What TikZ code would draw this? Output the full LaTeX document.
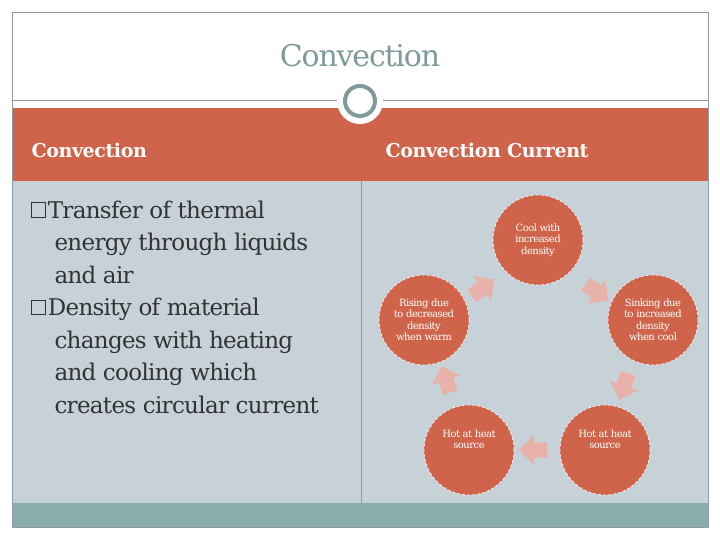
\documentclass[tikz,border=0pt]{standalone}
\usepackage{fontspec}
\setmainfont{DejaVu Serif}
\usetikzlibrary{shapes.arrows}
\definecolor{org}{HTML}{CF644A}
\definecolor{bodyg}{HTML}{C7D1D8}
\definecolor{teal}{HTML}{8AADAD}
\definecolor{ring}{HTML}{7E9A9A}
\definecolor{pinkar}{HTML}{E8B2AA}
\definecolor{frame}{HTML}{8A9AA6}
\newcommand{\bx}{\raisebox{0.05em}{\setlength{\fboxsep}{0pt}\setlength{\fboxrule}{0.6pt}\fbox{\rule{0pt}{0.6em}\hspace{0.6em}}}\hspace{0.1em}}
\tikzset{
 cyc/.style={circle,fill=org,draw=white,densely dashed,line width=0.6pt,minimum size=90pt,inner sep=0pt,text=white,align=center,font=\fontsize{10}{11.5}\selectfont\addfontfeatures{LetterSpace=-5}},
 blk/.style={single arrow,fill=pinkar,draw=none,minimum height=28pt,minimum width=30pt,single arrow head extend=4pt,inner sep=4pt},
 hdr/.style={text=white,font=\fontsize{19}{22}\selectfont\bfseries\addfontfeatures{LetterSpace=-2},anchor=west}
}
\begin{document}
\begin{tikzpicture}[x=1pt,y=-1pt]
\useasboundingbox (0,0) rectangle (720,540);
\fill[white] (0,0) rectangle (720,540);
\fill[bodyg] (12,181) rectangle (708,503);
\fill[org] (12,108) rectangle (708,181);
\fill[teal] (12,503) rectangle (708,527);
\draw[frame,line width=0.6pt] (12,12) rectangle (708,527);
\draw[frame,line width=0.6pt] (12,100) -- (708,100);
\draw[frame,line width=0.6pt] (361,181) -- (361,503);
\node[circle,fill=white,minimum size=46pt,inner sep=0pt] (ringbg) at (360,101) {};
\node[circle,draw=ring,line width=4pt,minimum size=30pt,inner sep=0pt] (ring) at (360,101) {};
\node[text=ring,font=\fontsize{30}{34}\selectfont\addfontfeatures{LetterSpace=-4}] (title) at (360,56) {Convection};
\node[hdr] (h1) at (28,150) {Convection};
\node[hdr] (h2) at (382,150) {Convection Current};
\node[anchor=north west,text=black!80,align=left,font=\fontsize{23}{32.5}\selectfont\addfontfeatures{LetterSpace=-3}] (txt) at (27,197)
 {\bx Transfer of thermal\\
  \hspace*{24pt}energy through liquids\\
  \hspace*{24pt}and air\\
  \bx Density of material\\
  \hspace*{24pt}changes with heating\\
  \hspace*{24pt}and cooling which\\
  \hspace*{24pt}creates circular current};
\node[cyc] (c1) at (538,240) {Cool with\\increased\\density};
\node[cyc] (c2) at (653,320) {Sinking due\\to increased\\density\\when cool};
\node[cyc] (c3) at (605,450) {Hot at heat\\source\\[10pt]};
\node[cyc] (c4) at (469,450) {Hot at heat\\source\\[10pt]};
\node[cyc] (c5) at (424,320) {Rising due\\to decreased\\density\\when warm};
\node[blk,rotate=-36] (a1) at (594,290) {};
\node[blk,rotate=-108] (a2) at (625,383) {};
\node[blk,rotate=180] (a3) at (537,450) {};
\node[blk,rotate=108] (a4) at (447,383) {};
\node[blk,rotate=36] (a5) at (480,290) {};
\end{tikzpicture}
\end{document}
